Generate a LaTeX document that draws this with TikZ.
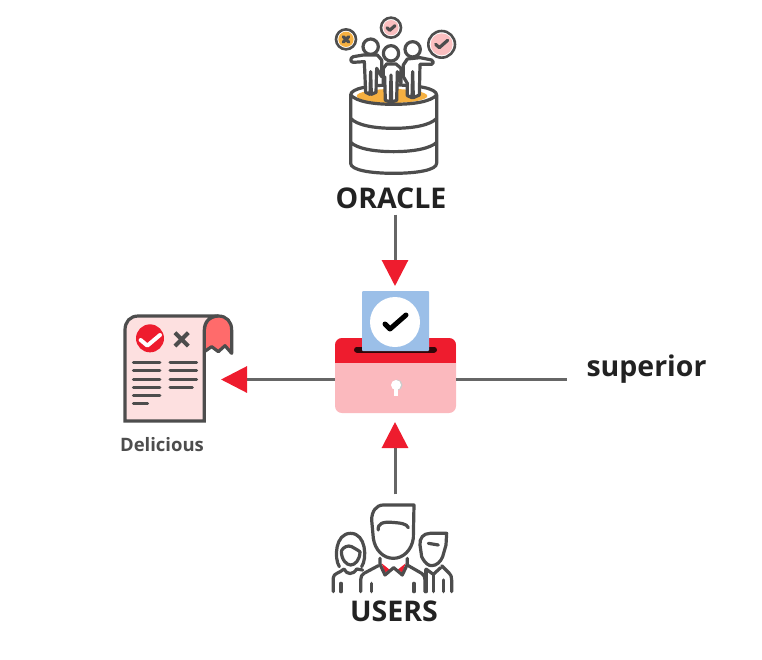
\documentclass[tikz,border=0pt]{standalone}
\usepackage{fontspec}
\setmainfont{Open Sans}
\usetikzlibrary{arrows.meta}
\definecolor{outline}{HTML}{4D4D4D}
\definecolor{flowgray}{HTML}{666666}
\definecolor{tipred}{HTML}{EE1C2E}
\definecolor{boxpink}{HTML}{FBB9BE}
\definecolor{docpink}{HTML}{FDE0E0}
\definecolor{ribbon}{HTML}{FF6B6B}
\definecolor{paperblue}{HTML}{9BBFE8}
\definecolor{gold}{HTML}{F5B041}
\definecolor{badgepink}{HTML}{FBBFC0}
\definecolor{inktext}{HTML}{222222}

\begin{document}
\begin{tikzpicture}[x=1pt, y=-1pt, >={Triangle[length=26pt,width=26pt,color=tipred]}]
\tikzstyle{flow} = [draw=flowgray, line width=3pt]
\tikzstyle{bigtext} = [inner sep=0pt, text=inktext, font=\bfseries\fontsize{28.5}{28.5}\selectfont]
\tikzstyle{smalltext} = [inner sep=0pt, text=outline, font=\bfseries\fontsize{18.5}{18.5}\selectfont]
\tikzstyle{icon} = [draw=outline, line width=3.2pt, line join=round, line cap=round]
\tikzstyle{person} = [icon, fill=white]
\tikzstyle{ballotbox} = [fill=boxpink, rounded corners=7pt, minimum width=121pt, minimum height=75pt, inner sep=0pt]

\def\badge#1#2#3#4{
\fill[white, draw=outline, line width=2.6pt] (#1,#2) circle (#3);
\fill[#4] (#1,#2) circle (#3-7);
}

\useasboundingbox (0,0) rectangle (762,659);

    % Database with the people standing on it
    \begin{scope}[shift={(320,5)}, x=0.3333pt, y=-0.3333pt]
    \draw[icon, fill=white] (92,270) .. controls (92,250) and (150,240) .. (221,240) .. controls (292,240) and (350,250) .. (350,270) -- (350,475) .. controls (350,495) and (292,505) .. (221,505) .. controls (150,505) and (92,495) .. (92,475) -- cycle;
    \fill[gold] (216,273) ellipse (106 and 21);
    \draw[icon] (92,270) .. controls (110,290) and (160,298) .. (221,298) .. controls (282,298) and (332,290) .. (350,270);
    \draw[icon] (92,340) .. controls (110,360) and (160,370) .. (221,370) .. controls (282,370) and (332,360) .. (350,340);
    \draw[icon] (92,412) .. controls (110,430) and (160,440) .. (221,440) .. controls (282,440) and (332,430) .. (350,412);
    \draw[person] (100,172) -- (133,170) -- (137,262) -- (150,268) -- (152,200) -- (154,268) -- (168,262) -- (170,190) -- (185,215) -- (185,165) -- (172,150) -- (130,150) -- (100,155) .. controls (90,158) and (90,172) .. (100,172) -- cycle;
    \draw[person] (335,178) -- (300,178) -- (298,270) -- (280,278) -- (278,200) -- (276,278) -- (262,272) -- (262,235) -- (250,215) -- (250,180) -- (262,162) -- (300,158) -- (335,165) .. controls (342,168) and (342,176) .. (335,178) -- cycle;
    \draw[person] (190,235) -- (190,190) -- (200,177) -- (228,177) -- (243,190) -- (243,235) -- (232,200) -- (230,286) -- (215,291) -- (213,210) -- (211,291) -- (196,286) -- (194,215) -- cycle;
    \draw[person] (152,125) circle (23);
    \draw[person] (278,133) circle (23);
    \draw[person] (213,145) circle (23);
    \badge{78}{103}{30}{gold}
    \badge{213}{68}{30}{badgepink}
    \badge{365}{118}{40}{badgepink}
    \draw[icon] (70,95) -- (86,111) (86,95) -- (70,111);
    \draw[icon] (201,68) -- (209,76) -- (225,62);
    \draw[icon] (347,118) -- (358,128) -- (383,106);
    \end{scope}

    \node[bigtext] (oracle) at (391,198) {ORACLE};

    % Ballot box
    \node[ballotbox] (ballot) at (395.5,375.5) {};
    \begin{scope}
    \clip[rounded corners=7pt] (335,338) rectangle (456,413);
    \fill[tipred] (335,338) rectangle (456,363);
    \end{scope}
    \draw[line width=6pt, line cap=round, color=black!80!tipred] (357,349.5) -- (434,349.5);
    \fill[paperblue, rounded corners=1pt] (362,291) rectangle (429,351);
    \fill[white] (395,322) circle (25);
    \draw[line width=5pt, line cap=round, line join=round] (385,324) -- (390,329) -- (406,315);
    \fill[black!20] (397,385) circle (5.5);
    \fill[black!20] (395,387) rectangle (398,396);
    \fill[white] (396,385) circle (5);
    \fill[white] (394,387) rectangle (397.5,396);

    % Document on the left
    \begin{scope}[shift={(110,305)}, x=0.3333pt, y=-0.3333pt]
    \draw[icon, fill=ribbon] (283,75) .. controls (283,50) and (300,33) .. (325,33) .. controls (350,33) and (365,50) .. (365,75) -- (365,145) -- (345,122) -- (325,140) -- (305,125) -- (283,140) -- cycle;
    \draw[icon, fill=docpink, line cap=butt, line join=miter] (45,348) -- (45,75) .. controls (45,50) and (60,33) .. (85,33) -- (325,33) .. controls (300,33) and (283,50) .. (283,75) -- (283,348) -- cycle;
    \fill[tipred] (120,100) circle (42);
    \draw[white, line width=4pt, line cap=round, line join=round] (92,105) -- (112,122) -- (150,90);
    \draw[outline, line width=4pt] (195,83) -- (235,123) (235,83) -- (195,123);
    \foreach \y in {172,197,222,247,272} \draw[outline, line width=3pt, line cap=round] (70,\y) -- (150,\y);
    \draw[outline, line width=3pt, line cap=round] (70,297) -- (113,297);
    \foreach \y in {172,197,222} \draw[outline, line width=3pt, line cap=round] (180,\y) -- (260,\y);
    \draw[outline, line width=3pt, line cap=round] (180,247) -- (247,247);
    \end{scope}
    \node[smalltext] (delicious) at (162,445) {Delicious};
    \coordinate (doctip) at (221,379.5);

    % Users
    \begin{scope}[shift={(320,495)}, x=0.3333pt, y=-0.3333pt]
    \draw[icon] (282,30) -- (190,30) .. controls (168,30) and (155,50) .. (155,75) -- (160,130) .. controls (165,165) and (190,190) .. (220,190) .. controls (250,190) and (275,165) .. (280,130) -- cycle;
    \draw[icon] (175,105) .. controls (172,85) and (190,80) .. (215,82) .. controls (240,84) and (260,85) .. (265,98);
    \fill[tipred] (185,205) -- (210,225) -- (195,232) -- cycle;
    \fill[tipred] (257,205) -- (232,225) -- (247,232) -- cycle;
    \draw[icon] (180,190) -- (180,208) -- (195,240) -- (221,218) -- (247,240) -- (262,208) -- (262,190);
    \draw[icon] (175,212) -- (132,235) .. controls (125,240) and (122,245) .. (122,255) -- (122,290);
    \draw[icon] (265,212) -- (305,235) .. controls (312,240) and (315,245) .. (315,255) -- (315,290);
    \draw[icon] (155,265) -- (155,290) (282,265) -- (282,290);
    \draw[icon] (58,215) .. controls (42,190) and (45,115) .. (92,115) .. controls (138,115) and (142,190) .. (125,215);
    \draw[icon] (64,168) .. controls (70,155) and (85,150) .. (95,155) .. controls (105,160) and (112,165) .. (120,170);
    \draw[icon] (64,168) .. controls (64,195) and (80,210) .. (92,210) .. controls (105,210) and (120,195) .. (120,170);
    \draw[icon] (40,290) -- (40,248) .. controls (40,235) and (58,235) .. (72,222) .. controls (80,240) and (100,240) .. (110,222) -- (128,225);
    \draw[icon] (63,265) -- (63,290);
    \draw[icon] (380,115) -- (330,115) .. controls (310,115) and (298,130) .. (300,150) -- (305,185) .. controls (315,205) and (325,212) .. (335,212) .. controls (350,212) and (362,200) .. (368,185) -- (378,150) -- cycle;
    \draw[icon] (325,145) -- (355,150);
    \draw[icon] (365,212) -- (388,235) .. controls (393,240) and (395,245) .. (395,255) -- (395,290);
    \draw[icon] (318,225) -- (318,290) (340,240) -- (340,290) (370,255) -- (370,290);
    \draw[icon] (318,222) -- (340,238) -- (362,218);
    \end{scope}
    \node[bigtext] (users) at (394,611) {USERS};

    \node[bigtext] (superior) at (646.5,369) {superior};

    % Connectors
    \coordinate (ballottop) at (395,286);
    \coordinate (ballotbottom) at (395,422);
    \draw[flow, ->] (oracle.south -| ballottop) ++(0,6) -- (ballottop);
    \draw[flow, ->] (ballotbottom |- users.north) ++(0,-106) -- (ballotbottom);
    \draw[flow, ->] ([yshift=-4pt]ballot.west) -- (doctip);
    \draw[flow] ([yshift=-4pt]ballot.east) -- (567,379.5) coordinate (superiorend);
\end{tikzpicture}
\end{document}
